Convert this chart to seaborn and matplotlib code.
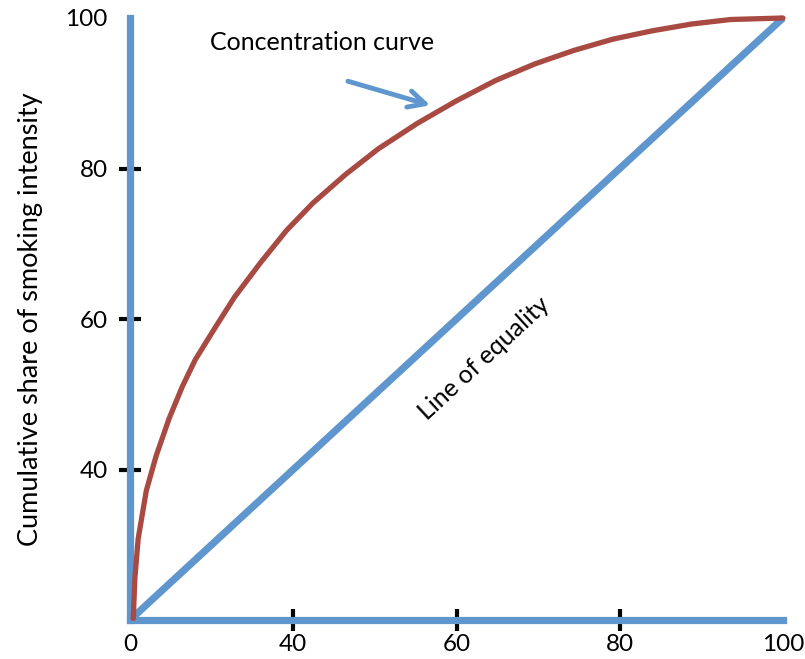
import matplotlib
matplotlib.use("Agg")
import matplotlib.pyplot as plt
import seaborn as sns
import pandas as pd

# ---- data ----
x_tick_positions = [20, 40, 60, 80, 100]
x_tick_labels = ["0", "40", "60", "80", "100"]
y_tick_positions = [40, 60, 80, 100]
y_tick_labels = ["40", "60", "80", "100"]

equality_x = [20, 100]
equality_y = [20, 100]

conc_x = [20.4, 20.6, 21.0, 22.0, 23.2, 24.8, 26.4, 28.0, 30.4, 32.8, 36.0, 39.2,
          42.4, 46.4, 50.4, 55.2, 60.0, 64.8, 69.6, 74.4, 79.2, 84.0, 88.8, 93.6, 100.0]
conc_y = [20.2, 25.6, 30.8, 37.2, 41.8, 46.8, 51.0, 54.6, 58.8, 62.9, 67.5, 71.8,
          75.4, 79.2, 82.6, 86.0, 89.0, 91.7, 93.9, 95.7, 97.2, 98.3, 99.2, 99.8, 100.0]

y_label = "Cumulative share of smoking intensity"
curve_label = "Concentration curve"
equality_label = "Line of equality"

BLUE = "#5F96CD"
RED = "#A84A42"

sns.set_theme(style="white")
plt.rcParams["font.family"] = ["Lato", "DejaVu Sans"]

fig = plt.figure(figsize=(8.05, 6.59), dpi=100)
ax = fig.add_axes([130 / 805, 39 / 659, 653 / 805, 602 / 659])

df_eq = pd.DataFrame({"x": equality_x, "y": equality_y})
df_c = pd.DataFrame({"x": conc_x, "y": conc_y})

sns.lineplot(data=df_eq, x="x", y="y", ax=ax, color=BLUE, lw=5.2,
             estimator=None, sort=False, solid_capstyle="butt")
sns.lineplot(data=df_c, x="x", y="y", ax=ax, color=RED, lw=3.8,
             estimator=None, sort=False, solid_capstyle="round",
             solid_joinstyle="round")
for ln in ax.lines:
    ln.set_clip_on(False)

ax.set_xlim(20, 100)
ax.set_ylim(20, 100)

for s in ["top", "right"]:
    ax.spines[s].set_visible(False)
for s in ["left", "bottom"]:
    ax.spines[s].set_color(BLUE)
    ax.spines[s].set_linewidth(5.2)
    ax.spines[s].set_zorder(1)

ax.set_xticks(x_tick_positions)
ax.set_xticklabels(x_tick_labels)
ax.set_yticks(y_tick_positions)
ax.set_yticklabels(y_tick_labels)
ax.tick_params(axis="both", which="major", direction="inout", length=16,
               width=3, color="black", labelsize=17.5, labelcolor="black",
               bottom=True, left=True, top=False, right=False)
ax.tick_params(axis="x", pad=2)
ax.tick_params(axis="y", pad=8)
xt = ax.xaxis.get_major_ticks()
for t in (xt[0], xt[-1]):
    t.tick1line.set_visible(False)
yt = ax.yaxis.get_major_ticks()
yt[-1].tick1line.set_visible(False)

ax.set_xlabel("")
ax.set_ylabel(y_label, fontsize=19.5, color="black", labelpad=16)
ax.grid(False)

ax.text(29.8, 96.8, curve_label, fontsize=18, ha="left", va="center",
        color="black")
ax.annotate("", xy=(56.8, 88.4), xytext=(46.7, 91.6),
            arrowprops=dict(arrowstyle="->", lw=3.5, color=BLUE,
                            mutation_scale=30, shrinkA=0, shrinkB=0))
ax.text(63.4, 54.8, equality_label, fontsize=18, ha="center", va="center",
        rotation=42.7, rotation_mode="anchor", color="black")

fig.savefig("out.png", dpi=100)
